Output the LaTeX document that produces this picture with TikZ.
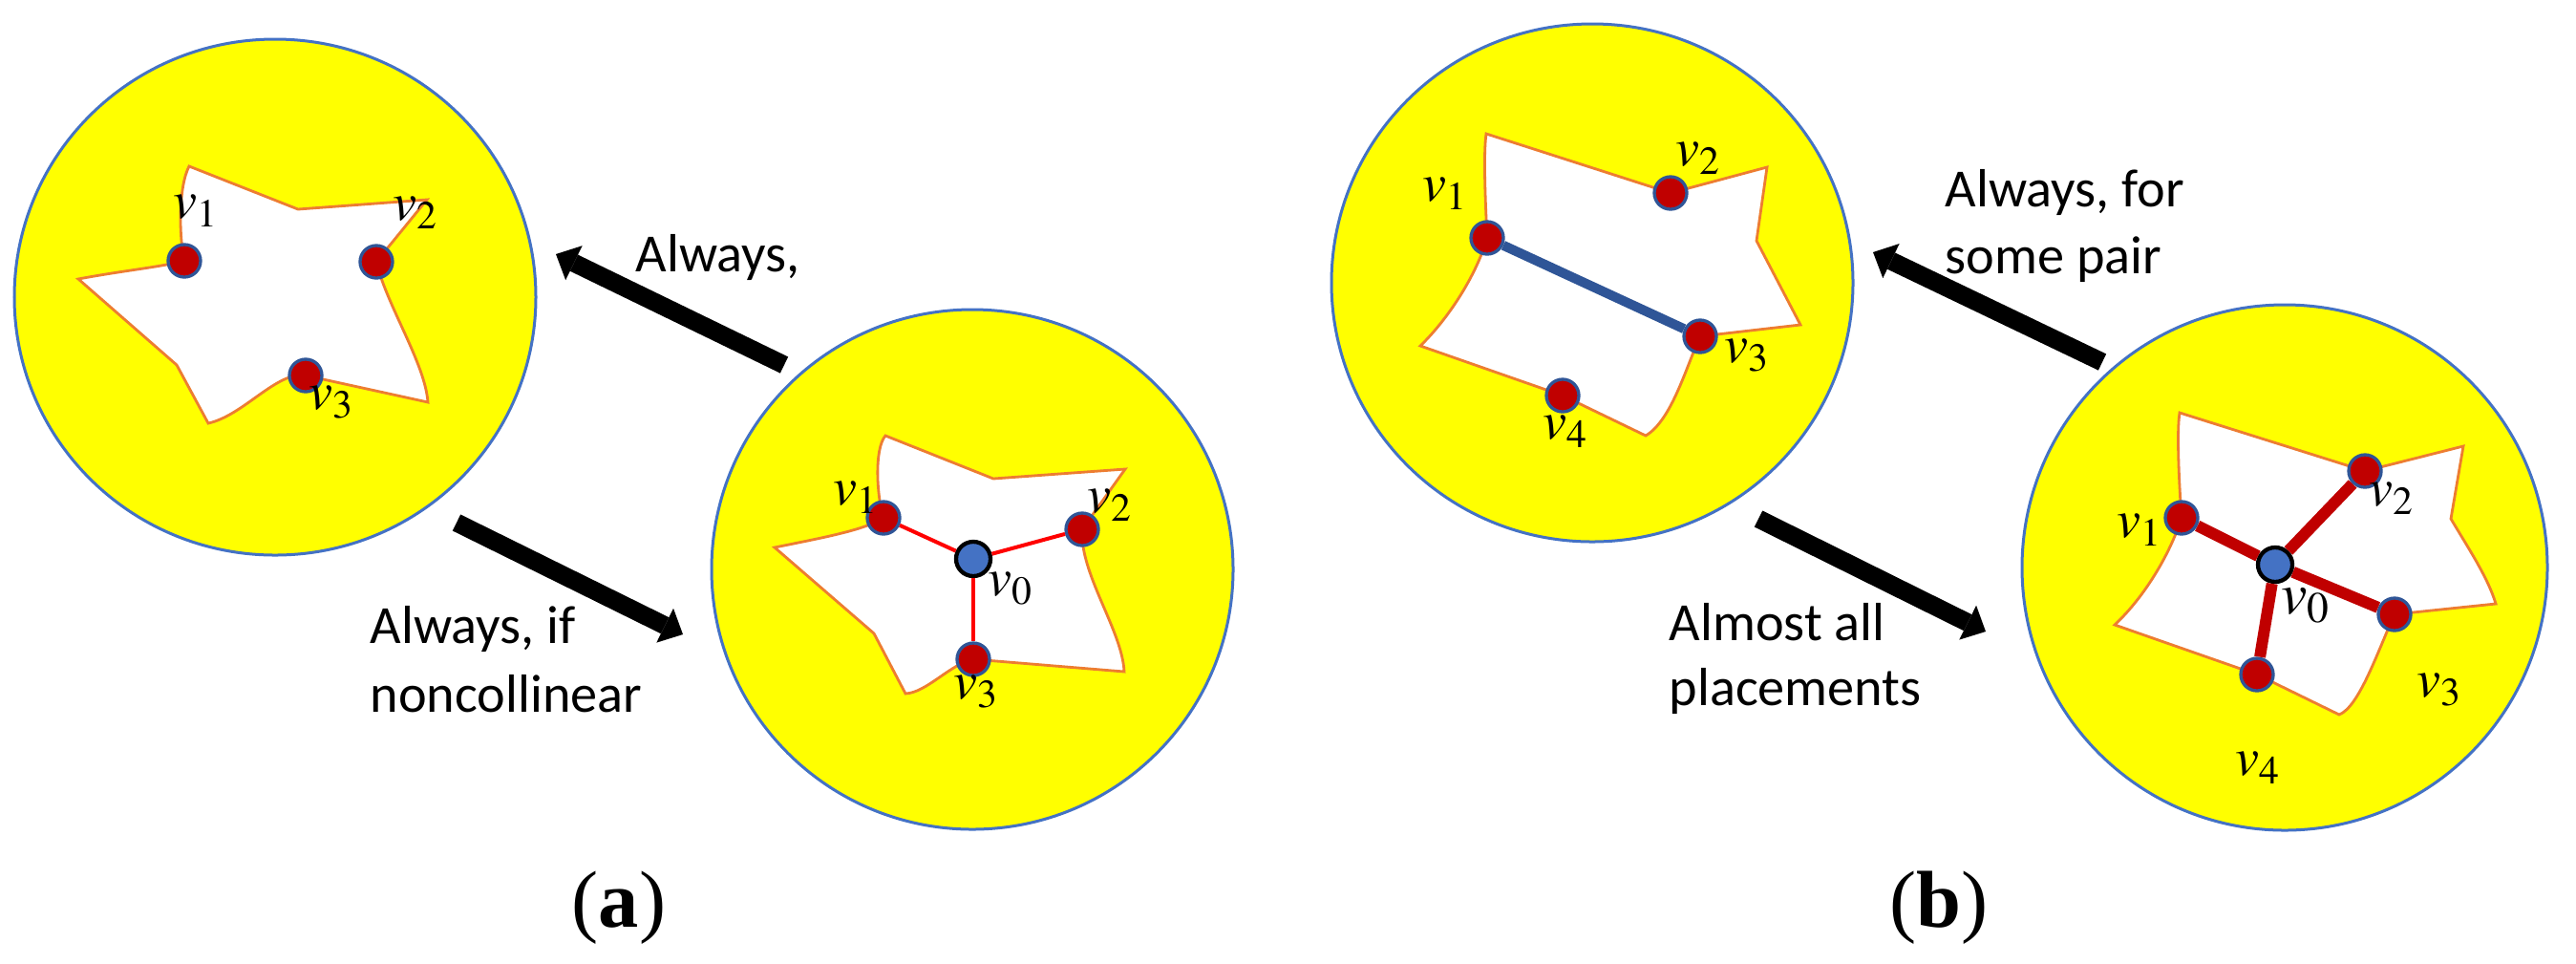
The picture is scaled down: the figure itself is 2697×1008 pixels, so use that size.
\documentclass[tikz,border=0pt]{standalone}
\usepackage{mathptmx}
\usepackage[no-math]{fontspec}
\newfontfamily\labfont{Carlito}
\newfontfamily\capfont{Liberation Serif}
\usepackage{xcolor}
\usepackage{tikz}
\usetikzlibrary{arrows.meta}
\definecolor{diskfill}{HTML}{FFFF00}
\definecolor{diskedge}{HTML}{4472C4}
\definecolor{regedge}{HTML}{ED7D31}
\definecolor{vred}{HTML}{C00000}
\definecolor{vblue}{HTML}{2F5597}
\definecolor{cblue}{HTML}{4472C4}

\begin{document}
\begin{tikzpicture}[x=0.01cm,y=-0.01cm,
	disk/.style={fill=diskfill,draw=diskedge,line width=0.03cm},
	region/.style={fill=white,draw=regedge,line width=0.028cm},
	vtx/.style={shape=circle,fill=vred,draw=vblue,line width=0.033cm,inner sep=0pt,minimum size=0.34cm},
	ctr/.style={shape=circle,fill=cblue,draw=black,line width=0.043cm,inner sep=0pt,minimum size=0.36cm},
	lab/.style={inner sep=0pt,font=\fontsize{16}{19}\selectfont},
	txt/.style={inner sep=0pt,anchor=base west,font=\labfont\fontsize{16}{19}\selectfont},
	bigarrow/.style={line width=0.19cm,-{Triangle[width=0.40cm,length=0.21cm,line width=0pt]}}]
			\useasboundingbox (0,0) rectangle (2697,1008);

			%% (a) left disk
			\draw[disk] (288,311) ellipse [x radius=273, y radius=270];
			\coordinate (pa1) at (193,273);
			\coordinate (pa2) at (394,274);
			\coordinate (pa3) at (320,393);
			\draw[region] (198,174) -- (312,219) -- (447,209) -- (pa2) .. controls (405,320) and (445,380) .. (448,421) -- (pa3) .. controls (290,388) and (255,435) .. (218,443) -- (185,382) -- (82,292) .. controls (130,283) and (165,280) .. (pa1) .. controls (187,245) and (187,195) .. (198,174) -- cycle;
			\node[vtx] (a1) at (pa1) {};
			\node[vtx] (a2) at (pa2) {};
			\node[vtx] (a3) at (pa3) {};
			\node[lab] (a1l) at (205,221) {$v_1$};
			\node[lab] (a2l) at (435,223) {$v_2$};
			\node[lab] (a3l) at (347,421) {$v_3$};

			%% (a) right disk
			\draw[disk] (1018,596) ellipse [x radius=273, y radius=272];
			\coordinate (pc0) at (1019,585);
			\coordinate (pc1) at (925,542);
			\coordinate (pc2) at (1133,554);
			\coordinate (pc3) at (1019,690);
			\draw[region] (927,456) -- (1040,501) -- (1178,491) -- (pc2) .. controls (1130,600) and (1175,660) .. (1177,703) -- (pc3) .. controls (995,695) and (970,725) .. (948,726) -- (915,663) -- (811,573) .. controls (860,563) and (905,555) .. (pc1) .. controls (918,520) and (915,470) .. (927,456) -- cycle;
			\node[vtx] (c1) at (pc1) {};
			\node[vtx] (c2) at (pc2) {};
			\node[vtx] (c3) at (pc3) {};
			\node[ctr] (c0) at (pc0) {};
			\draw[red, line width=0.04cm] (c0) -- (c1);
			\draw[red, line width=0.04cm] (c0) -- (c2);
			\draw[red, line width=0.04cm] (c0) -- (c3);
			\node[lab] (c1l) at (896,521) {$v_1$};
			\node[lab] (c2l) at (1162,529) {$v_2$};
			\node[lab] (c0l) at (1058,616) {$v_0$};
			\node[lab] (c3l) at (1022,724) {$v_3$};

			%% (b) left disk
			\draw[disk] (1667,296) ellipse [x radius=273, y radius=271];
			\coordinate (pb1) at (1557,249);
			\coordinate (pb2) at (1749,202);
			\coordinate (pb3) at (1780,352);
			\coordinate (pb4) at (1636,414);
			\draw[region] (1556,140) -- (pb2) -- (1850,175) -- (1839,252) -- (1885,340) -- (pb3) .. controls (1765,385) and (1750,440) .. (1723,456) -- (pb4) -- (1487,362) .. controls (1515,335) and (1545,290) .. (pb1) .. controls (1555,210) and (1553,160) .. (1556,140) -- cycle;
			\node[vtx] (b1) at (pb1) {};
			\node[vtx] (b2) at (pb2) {};
			\node[vtx] (b3) at (pb3) {};
			\node[vtx] (b4) at (pb4) {};
			\draw[vblue, line width=0.10cm] (b1) -- (b3);
			\node[lab] (b1l) at (1513,203) {$v_1$};
			\node[lab] (b2l) at (1778,166) {$v_2$};
			\node[lab] (b3l) at (1829,372) {$v_3$};
			\node[lab] (b4l) at (1639,452) {$v_4$};

			%% (b) right disk
			\draw[disk] (2392,594) ellipse [x radius=275, y radius=275];
			\coordinate (pd0) at (2382,591);
			\coordinate (pd1) at (2284,542);
			\coordinate (pd2) at (2476,493);
			\coordinate (pd3) at (2507,643);
			\coordinate (pd4) at (2363,706);
			\draw[region] (2282,432) -- (pd2) -- (2579,467) -- (2566,543) .. controls (2585,575) and (2605,605) .. (2613,632) -- (pd3) .. controls (2490,680) and (2470,740) .. (2449,748) -- (pd4) -- (2214,654) .. controls (2245,625) and (2272,580) .. (pd1) .. controls (2281,500) and (2279,450) .. (2282,432) -- cycle;
			\node[vtx] (d1) at (pd1) {};
			\node[vtx] (d2) at (pd2) {};
			\node[vtx] (d3) at (pd3) {};
			\node[vtx] (d4) at (pd4) {};
			\node[ctr] (d0) at (pd0) {};
			\draw[vred, line width=0.12cm] (d0) -- (d1);
			\draw[vred, line width=0.12cm] (d0) -- (d2);
			\draw[vred, line width=0.12cm] (d0) -- (d3);
			\draw[vred, line width=0.12cm] (d0) -- (d4);
			\node[lab] (d1l) at (2240,555) {$v_1$};
			\node[lab] (d2l) at (2504,522) {$v_2$};
			\node[lab, font=\fontsize{17.5}{21}\selectfont] (d0l) at (2414,634) {$v_0$};
			\node[lab] (d3l) at (2554,722) {$v_3$};
			\node[lab] (d4l) at (2364,804) {$v_4$};

			%% arrows
			\coordinate (qa1) at (821,382);
			\coordinate (qa2) at (582,266);
			\coordinate (qa3) at (478,547);
			\coordinate (qa4) at (715,664);
			\coordinate (qb1) at (2201,379);
			\coordinate (qb2) at (1961,264);
			\coordinate (qb3) at (1841,543);
			\coordinate (qb4) at (2079,661);
			\draw[bigarrow] (qa1) -- (qa2);
			\draw[bigarrow] (qa3) -- (qa4);
			\draw[bigarrow] (qb1) -- (qb2);
			\draw[bigarrow] (qb3) -- (qb4);

			%% texts
			\node[txt] (ta1) at (665,284) {Always,};
			\node[txt] (ta2) at (387,673) {Always, if};
			\node[txt] (ta3) at (387,745) {noncollinear};
			\node[txt] (tb1) at (2036,216) {Always, for};
			\node[txt] (tb2) at (2036,286) {some pair};
			\node[txt] (tb3) at (1747,670) {Almost all};
			\node[txt] (tb4) at (1747,738) {placements};
			\node[inner sep=0pt, anchor=base, font=\capfont\fontsize{24}{28}\selectfont] (capa) at (648,970) {(\textbf{a})};
			\node[inner sep=0pt, anchor=base, font=\capfont\fontsize{24}{28}\selectfont] (capb) at (2030,970) {(\textbf{b})};
		\end{tikzpicture}
\end{document}
